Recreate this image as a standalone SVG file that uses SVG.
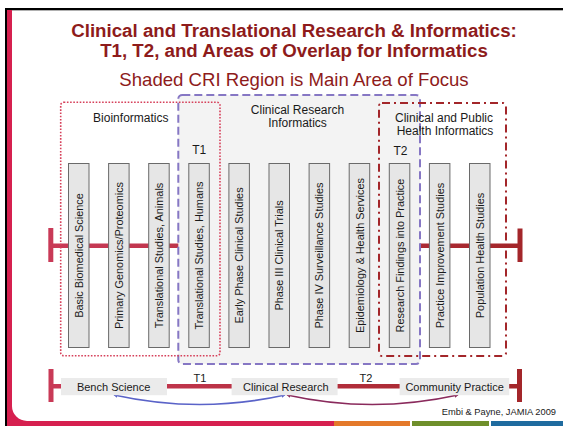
<svg xmlns="http://www.w3.org/2000/svg" width="563" height="426" viewBox="0 0 563 426">
  <style>
    text { font-family: "Liberation Sans", Arial, sans-serif; }
    .title { font-size: 18.7px; font-weight: bold; fill: #8e1b1b; text-anchor: middle; }
    .sub { font-size: 18.6px; fill: #8e1b1b; text-anchor: middle; }
    .bar { fill: #e6e6e6; stroke: #6a6a6a; stroke-width: 1; }
    .bar-label { font-size: 10.9px; fill: #1a1a1a; text-anchor: middle; }
    .region-label { font-size: 12px; fill: #1a1a1a; text-anchor: middle; }
    .stage { fill: #ebebeb; }
    .stage-label { font-size: 11px; fill: #1a1a1a; text-anchor: middle; }
    .t-label { font-size: 11px; fill: #1a1a1a; text-anchor: middle; }
  </style>
  <defs>
    <linearGradient id="spectrum" gradientUnits="userSpaceOnUse" x1="48" y1="0" x2="522" y2="0">
      <stop offset="0" stop-color="#c93a57"/>
      <stop offset="1" stop-color="#a3262a"/>
    </linearGradient>
    <marker id="tipBlue" viewBox="0 0 6 6" refX="5" refY="3" markerWidth="4" markerHeight="4" orient="auto-start-reverse" markerUnits="userSpaceOnUse">
      <path d="M0,0 L6,3 L0,6 Z" fill="#5a63c8"/>
    </marker>
    <marker id="tipPlum" viewBox="0 0 6 6" refX="5" refY="3" markerWidth="4" markerHeight="4" orient="auto-start-reverse" markerUnits="userSpaceOnUse">
      <path d="M0,0 L6,3 L0,6 Z" fill="#8a2a5c"/>
    </marker>
  </defs>

  <!-- slide frame -->
  <rect x="0" y="0" width="563" height="426" fill="#ffffff"/>
  <rect x="7" y="10" width="327" height="416" fill="#d6204f"/>
  <path d="M12,11 H563 V421 H27 A15,15 0 0 1 12,406 Z" fill="#ffffff"/>
  <rect x="5" y="8" width="558" height="2" fill="#000000"/>
  <rect x="5" y="8" width="2" height="418" fill="#000000"/>
  <rect x="12" y="10" width="551" height="1" fill="#b0b0b0"/>
  <rect x="334" y="421" width="76" height="5" fill="#e4792a"/>
  <rect x="412" y="421" width="77" height="5" fill="#6f8f2b"/>
  <rect x="491" y="421" width="72" height="5" fill="#1f6b9f"/>

  <!-- headings -->
  <text class="title" x="294" y="37">Clinical and Translational Research &amp; Informatics:</text>
  <text class="title" x="294" y="57">T1, T2, and Areas of Overlap for Informatics</text>
  <text class="sub" x="294" y="86">Shaded CRI Region is Main Area of Focus</text>

  <!-- research spectrum axis -->
  <g id="spectrum-axis">
    <rect x="50" y="243.5" width="470" height="4.5" fill="url(#spectrum)"/>
    <rect x="48.3" y="228" width="5" height="34" fill="url(#spectrum)"/>
    <rect x="517.5" y="228.5" width="5" height="33.5" fill="url(#spectrum)"/>
  </g>

  <!-- informatics regions -->
  <g id="region-cri">
    <rect x="178.3" y="95" width="241.7" height="269" rx="4" fill="#f3f3f3" stroke="#8677c4" stroke-width="2" stroke-dasharray="8 4"/>
    <text class="region-label" x="297.5" y="114">Clinical Research</text>
    <text class="region-label" x="297.5" y="127">Informatics</text>
  </g>
  <g id="region-bio">
    <rect x="60.7" y="102.3" width="159.3" height="253.4" rx="3" fill="none" stroke="#d6405a" stroke-width="1.6" stroke-dasharray="1.6 1.6"/>
    <text class="region-label" x="130.8" y="121.7">Bioinformatics</text>
  </g>
  <g id="region-cphi">
    <rect x="379" y="103" width="127" height="253" rx="3" fill="none" stroke="#a3262a" stroke-width="2" stroke-dasharray="8 4 2 4"/>
    <text class="region-label" x="444" y="121.7">Clinical and Public</text>
    <text class="region-label" x="445" y="135">Health Informatics</text>
  </g>
  <text class="region-label" x="199.3" y="154">T1</text>
  <text class="region-label" x="400.5" y="155">T2</text>

  <!-- study phases -->
  <g id="phase-1"><rect class="bar" x="68.5" y="163.5" width="20.5" height="184"/><text class="bar-label" transform="translate(82.8,255.5) rotate(-90)">Basic Biomedical Science</text></g>
  <g id="phase-2"><rect class="bar" x="108.6" y="163.5" width="20.5" height="184"/><text class="bar-label" transform="translate(122.9,255.5) rotate(-90)">Primary Genomics/Proteomics</text></g>
  <g id="phase-3"><rect class="bar" x="148.7" y="163.5" width="20.5" height="184"/><text class="bar-label" transform="translate(163,255.5) rotate(-90)">Translational Studies, Animals</text></g>
  <g id="phase-4"><rect class="bar" x="188.8" y="163.5" width="20.5" height="184"/><text class="bar-label" transform="translate(203.1,255.5) rotate(-90)">Translational Studies, Humans</text></g>
  <g id="phase-5"><rect class="bar" x="228.9" y="163.5" width="20.5" height="184"/><text class="bar-label" transform="translate(243.2,255.5) rotate(-90)">Early Phase Clinical Studies</text></g>
  <g id="phase-6"><rect class="bar" x="269" y="163.5" width="20.5" height="184"/><text class="bar-label" transform="translate(283.3,255.5) rotate(-90)">Phase III Clinical Trials</text></g>
  <g id="phase-7"><rect class="bar" x="309.1" y="163.5" width="20.5" height="184"/><text class="bar-label" transform="translate(323.4,255.5) rotate(-90)">Phase IV Surveillance Studies</text></g>
  <g id="phase-8"><rect class="bar" x="349.2" y="163.5" width="20.5" height="184"/><text class="bar-label" transform="translate(363.5,255.5) rotate(-90)">Epidemiology &amp; Health Services</text></g>
  <g id="phase-9"><rect class="bar" x="389.3" y="163.5" width="20.5" height="184"/><text class="bar-label" transform="translate(403.6,255.5) rotate(-90)">Research Findings into Practice</text></g>
  <g id="phase-10"><rect class="bar" x="429.4" y="163.5" width="20.5" height="184"/><text class="bar-label" transform="translate(443.7,255.5) rotate(-90)">Practice Improvement Studies</text></g>
  <g id="phase-11"><rect class="bar" x="469.5" y="163.5" width="20.5" height="184"/><text class="bar-label" transform="translate(483.8,255.5) rotate(-90)">Population Health Studies</text></g>

  <!-- translation pipeline -->
  <g id="pipeline-axis">
    <rect x="50" y="384" width="470" height="4.5" fill="url(#spectrum)"/>
    <rect x="48.5" y="369" width="5" height="33" fill="url(#spectrum)"/>
    <rect x="517" y="369" width="5" height="33" fill="url(#spectrum)"/>
  </g>
  <g id="connectors">
    <path d="M114,395 Q200,414 285,395" fill="none" stroke="#5a63c8" stroke-width="1.6" marker-start="url(#tipBlue)" marker-end="url(#tipBlue)"/>
    <path d="M287,395 Q372,414 458,395" fill="none" stroke="#8a2a5c" stroke-width="1.6" marker-start="url(#tipPlum)" marker-end="url(#tipPlum)"/>
  </g>
  <g id="stage-bench"><rect class="stage" x="61" y="378" width="106" height="17.2"/><text class="stage-label" x="113.6" y="390.5">Bench Science</text></g>
  <g id="stage-clinical"><rect class="stage" x="231.6" y="378" width="106" height="17.2"/><text class="stage-label" x="285.8" y="390.5">Clinical Research</text></g>
  <g id="stage-community"><rect class="stage" x="399.6" y="378" width="109.6" height="17.2"/><text class="stage-label" x="454.6" y="390.5">Community Practice</text></g>
  <text class="t-label" x="200" y="382">T1</text>
  <text class="t-label" x="366" y="382">T2</text>

  <text x="556" y="415" font-size="9.3" fill="#1a1a1a" text-anchor="end" font-family="Liberation Sans, Arial, sans-serif">Embi &amp; Payne, JAMIA 2009</text>
</svg>
